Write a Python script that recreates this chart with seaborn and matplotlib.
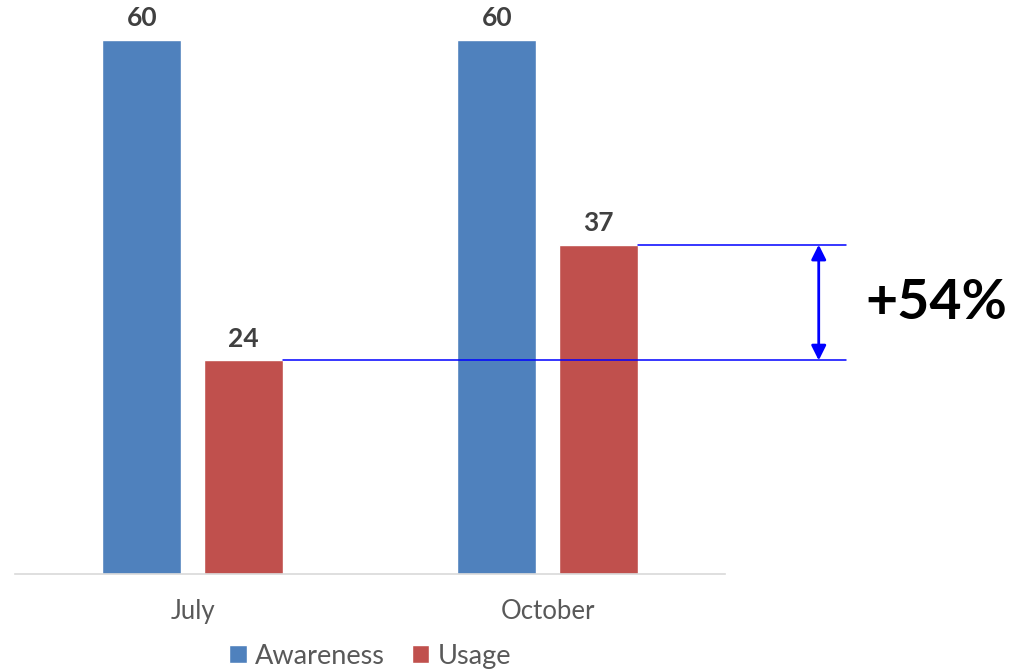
import matplotlib
matplotlib.use("Agg")
import matplotlib.pyplot as plt
import seaborn as sns
import pandas as pd

# Данные графика
months = ["July", "October"]
series = ["Awareness", "Usage"]
awareness = [60, 60]
usage = [24, 37]
growth_label = "+54%"

colors = {"Awareness": "#4F81BD", "Usage": "#C0504D"}

df = pd.DataFrame({
    "Month": months * 2,
    "Series": [series[0]] * len(months) + [series[1]] * len(months),
    "Value": awareness + usage,
})

sns.set_theme(style="white")
plt.rcParams["font.family"] = ["Lato", "DejaVu Sans"]

fig = plt.figure(figsize=(10.21, 6.72), dpi=100)
ax = fig.add_axes([15 / 1021, 1 - 574 / 672, 710 / 1021, 534 / 672])

sns.barplot(data=df, x="Month", y="Value", hue="Series", palette=colors,
            width=0.572, gap=0.217, saturation=1, ax=ax, legend=True)

ax.set_xlim(-0.5, 1.5)
ax.set_ylim(0, 60)
ax.set_xlabel("")
ax.set_ylabel("")
ax.set_yticks([])
for side in ["left", "right", "top"]:
    ax.spines[side].set_visible(False)
ax.spines["bottom"].set_color("#D9D9D9")
ax.spines["bottom"].set_linewidth(1.2)
ax.tick_params(axis="x", length=0, pad=18, labelsize=18.5, labelcolor="#595959")

# Подписи значений над столбцами
for container in ax.containers:
    ax.bar_label(container, padding=7, fontsize=19, fontweight="bold", color="#404040")

# Линии уровней и стрелка роста
usage_bars = ax.containers[1]
x_end = 1.84
x_arrow = 1.764
for bar, val in zip(usage_bars, usage):
    ax.plot([bar.get_x() + bar.get_width(), x_end], [val, val],
            color="#0000FF", lw=1.1, clip_on=False)
ax.annotate("", xy=(x_arrow, usage[1]), xytext=(x_arrow, usage[0]),
            arrowprops=dict(arrowstyle="<|-|>", color="#0000FF", lw=2,
                            mutation_scale=22, shrinkA=0, shrinkB=0),
            annotation_clip=False)
ax.text(1.895, (usage[0] + usage[1]) / 2, growth_label, fontsize=40,
        fontweight="bold", color="black", va="center", ha="left", clip_on=False)

leg = ax.legend(loc="upper center", bbox_to_anchor=(0.5, -0.103), ncol=2,
                frameon=False, fontsize=19.5, handlelength=0.65, handleheight=0.65,
                handletextpad=0.3, columnspacing=1.0, borderpad=0.05)
for t in leg.get_texts():
    t.set_color("#595959")

fig.savefig("out.png", dpi=100)
